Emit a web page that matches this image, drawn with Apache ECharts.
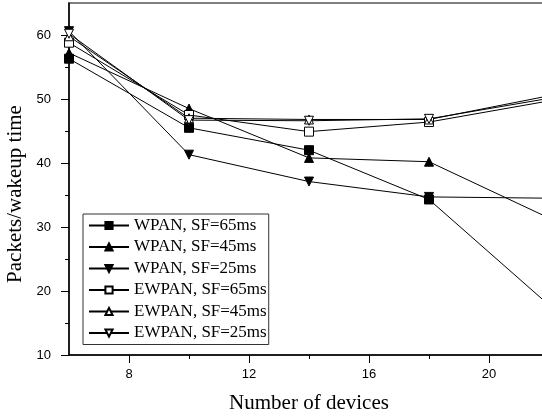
<!DOCTYPE html>
<html>
<head>
<meta charset="utf-8">
<script src="https://cdn.jsdelivr.net/npm/echarts@6/dist/echarts.min.js"></script>
<style>
  html, body { margin: 0; padding: 0; background: #fff; }
  #chart { width: 542px; height: 418px; }
</style>
</head>
<body>
<div id="chart"></div>
<script>
  // x positions (number of devices)
  var devices = [6, 10, 14, 18, 22];
  // packets / wakeup time
  var wpan65 = [56.3, 45.5, 42.0, 34.3, 17.8];
  var wpan45 = [57.2, 48.5, 40.8, 40.2, 31.4];
  var wpan25 = [60.6, 41.3, 37.1, 34.7, 34.5];
  var ewpan65 = [58.8, 47.5, 44.9, 46.4, 49.7];
  var ewpan45 = [59.8, 47.0, 46.8, 46.8, 50.5];
  var ewpan25 = [60.2, 46.7, 46.6, 46.9, 50.1];

  var xMajorTicks = [8, 12, 16, 20];
  var xMinorTicks = [10, 14, 18];
  var yMajorTicks = [10, 20, 30, 40, 50, 60];
  var yMinorTicks = [15, 25, 35, 45, 55];

  var chart = echarts.init(document.getElementById('chart'));

  function pairs(vals){
    return devices.map(function(d, i){ return [d, vals[i]] });
  }

  function makeSeries(name, vals, symbol, filled, rotate){
    return {
      name: name,
      type: 'line',
      data: pairs(vals),
      symbol: symbol,
      symbolSize: 9,
      symbolRotate: rotate || 0,
      showAllSymbol: true,
      clip: true,
      lineStyle: { color: '#000', width: 1 },
      itemStyle: {
        color: filled ? '#000' : '#fff',
        borderColor: '#000',
        borderWidth: 1
      },
      emphasis: { disabled: true },
      animation: false
    }
  }

  var sansFont = '"Liberation Sans", Arial, sans-serif';
  var serifFont = '"Liberation Serif", "Times New Roman", serif';

  var option = {
    backgroundColor: '#fff',
    animation: false,
    grid: {
      left: 69,
      top: 3,
      width: 480,
      height: 352,
      containLabel: false,
      outerBoundsMode: 'none',
      show: true,
      borderColor: '#555',
      borderWidth: 1.5,
      backgroundColor: 'transparent'
    },
    legend: {
      orient: 'vertical',
      left: 83,
      top: 214,
      itemWidth: 40,
      itemHeight: 9,
      itemGap: 4.5,
      padding: [3, 2, 3, 5],
      borderColor: '#333',
      borderWidth: 1,
      backgroundColor: '#fff',
      textStyle: { fontFamily: serifFont, fontSize: 17, color: '#000', lineHeight: 17 },
      data: ['WPAN, SF=65ms', 'WPAN, SF=45ms', 'WPAN, SF=25ms',
             'EWPAN, SF=65ms', 'EWPAN, SF=45ms', 'EWPAN, SF=25ms']
    },
    xAxis: [
      {
        type: 'value',
        min: 6,
        max: 22,
        name: 'Number of devices',
        nameLocation: 'middle',
        nameGap: 38,
        nameTextStyle: { fontFamily: serifFont, fontSize: 21, color: '#000' },
        splitLine: { show: false },
        axisLine: { lineStyle: { color: '#000', width: 1.5 } },
        axisTick: { customValues: xMajorTicks, length: 8, lineStyle: { color: '#000', width: 1 } },
        axisLabel: { customValues: xMajorTicks, margin: 13, fontFamily: sansFont, fontSize: 13, color: '#000' }
      },
      {
        type: 'value',
        min: 6,
        max: 22,
        position: 'bottom',
        splitLine: { show: false },
        axisLine: { show: false },
        axisTick: { customValues: xMinorTicks, length: 4, lineStyle: { color: '#000', width: 1 } },
        axisLabel: { show: false }
      }
    ],
    yAxis: [
      {
        type: 'value',
        min: 10,
        max: 65,
        name: 'Packets/wakeup time',
        nameLocation: 'middle',
        nameGap: 40,
        nameTextStyle: { fontFamily: serifFont, fontSize: 21, color: '#000', padding: [0, 30, 0, 0] },
        splitLine: { show: false },
        axisLine: { lineStyle: { color: '#000', width: 1.5 } },
        axisTick: { customValues: yMajorTicks, length: 8, lineStyle: { color: '#000', width: 1 } },
        axisLabel: { customValues: yMajorTicks, margin: 18, fontFamily: sansFont, fontSize: 13, color: '#000' }
      },
      {
        type: 'value',
        min: 10,
        max: 65,
        position: 'left',
        splitLine: { show: false },
        axisLine: { show: false },
        axisTick: { customValues: yMinorTicks, length: 4, lineStyle: { color: '#000', width: 1 } },
        axisLabel: { show: false }
      }
    ],
    series: [
      makeSeries('WPAN, SF=65ms', wpan65, 'rect', true),
      makeSeries('WPAN, SF=45ms', wpan45, 'triangle', true),
      makeSeries('WPAN, SF=25ms', wpan25, 'triangle', true, 180),
      makeSeries('EWPAN, SF=65ms', ewpan65, 'rect', false),
      makeSeries('EWPAN, SF=45ms', ewpan45, 'triangle', false),
      makeSeries('EWPAN, SF=25ms', ewpan25, 'triangle', false, 180)
    ]
  };

  chart.setOption(option);
</script>
</body>
</html>
